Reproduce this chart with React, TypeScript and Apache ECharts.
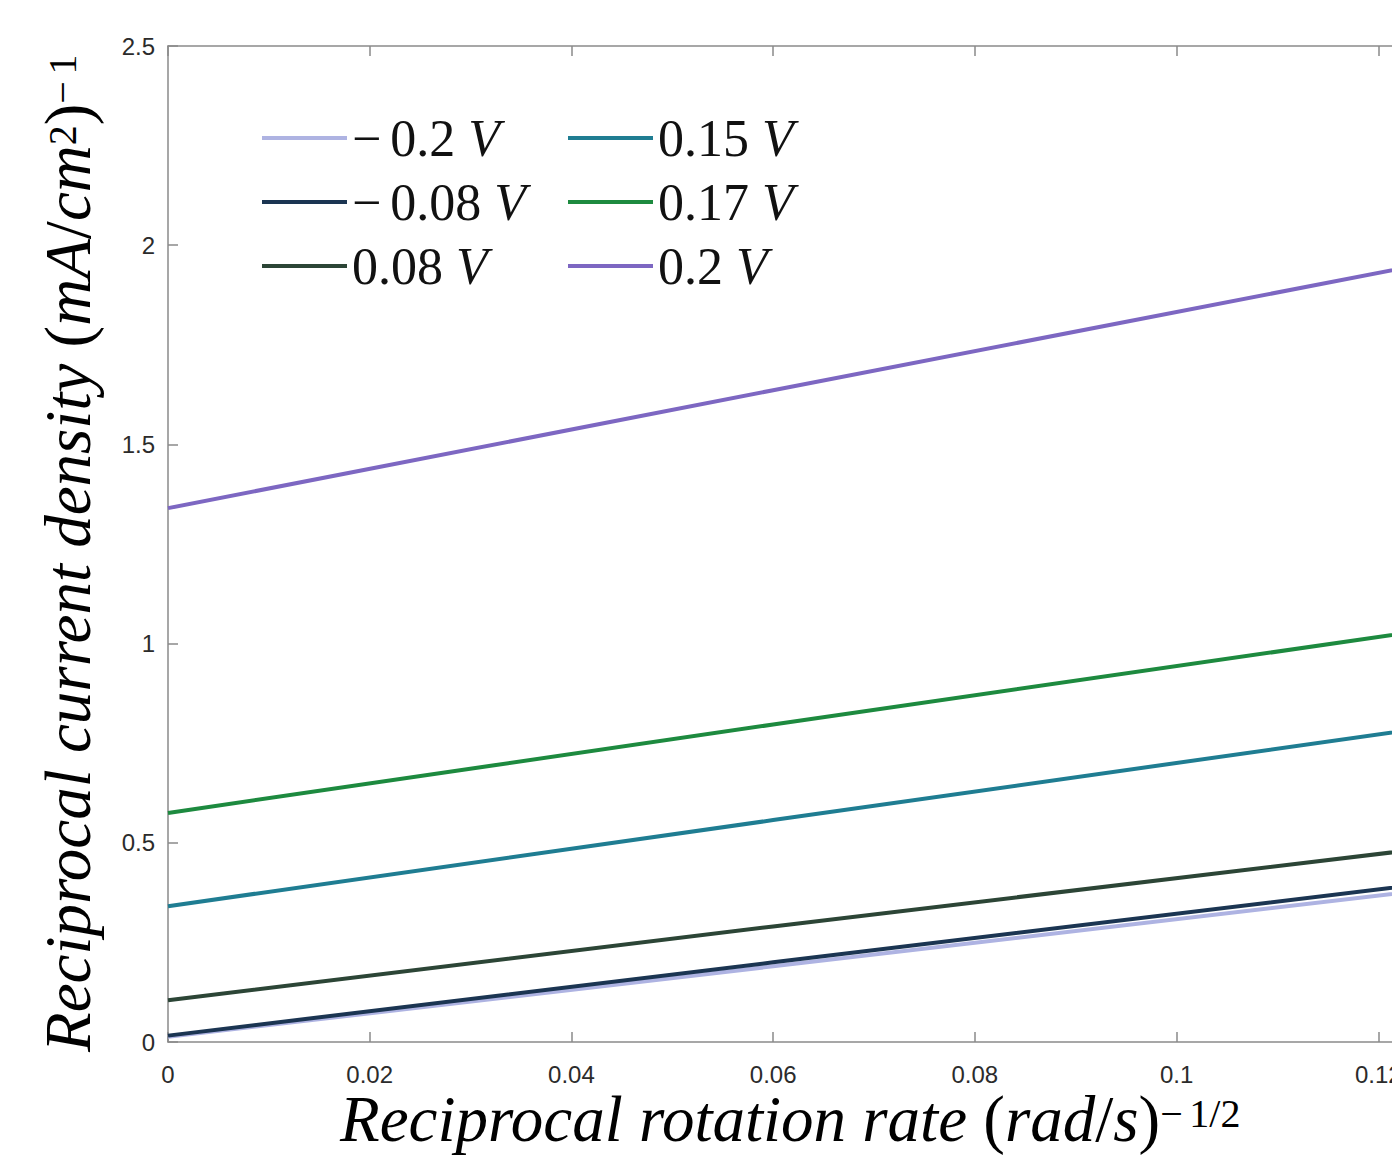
import React, { useEffect, useRef } from "react";
import * as echarts from "echarts";

// Reciprocal rotation rate (rad/s)^-1/2 sample points
const X_VALUES = [0, 0.06, 0.125];
// Reciprocal current density (mA/cm^2)^-1 for each potential
const SERIES_NAMES = ["\u22120.2", "\u22120.08", "0.08", "0.15", "0.17", "0.2"];
const V_NEG_020 = [0.013, 0.19, 0.382];
const V_NEG_008 = [0.016, 0.2, 0.398];
const V_POS_008 = [0.105, 0.29, 0.487];
const V_POS_015 = [0.341, 0.557, 0.79];
const V_POS_017 = [0.575, 0.797, 1.035];
const V_POS_020 = [1.34, 1.636, 1.955];
const SERIES_VALUES = [V_NEG_020, V_NEG_008, V_POS_008, V_POS_015, V_POS_017, V_POS_020];
const SERIES_COLORS = ["#aeb3e2", "#1b3552", "#2c4536", "#1f7d92", "#1d8a3f", "#7d67c2"];

const X_TICKS = [0, 0.02, 0.04, 0.06, 0.08, 0.1, 0.12, 0.14];
const Y_TICKS = [0, 0.5, 1, 1.5, 2, 2.5];

const AXIS_COLOR = "#8a8a8a";
const LABEL_COLOR = "#2b2b2b";
const SERIF = "'Liberation Serif', serif";
const SANS = "'Liberation Sans', Arial, sans-serif";

export default function App() {
  const ref = useRef<HTMLDivElement>(null);

  useEffect(() => {
    if (!ref.current) return;
    const chart = echarts.init(ref.current, undefined, { renderer: "svg" });

    const xMin = X_TICKS[0];
    const xMax = X_TICKS[X_TICKS.length - 1];
    const xInt = X_TICKS[1] - X_TICKS[0];
    const yMin = Y_TICKS[0];
    const yMax = Y_TICKS[Y_TICKS.length - 1];
    const yInt = Y_TICKS[1] - Y_TICKS[0];

    const series = SERIES_NAMES.map((name, i) => ({
      name,
      type: "line",
      xAxisIndex: 0,
      yAxisIndex: 0,
      showSymbol: false,
      symbol: "none",
      data: X_VALUES.map((x, j) => [x, SERIES_VALUES[i][j]]),
      lineStyle: { color: SERIES_COLORS[i], width: 4 },
      itemStyle: { color: SERIES_COLORS[i] },
      z: 2 + i,
    }));

    const legendText = (name: string) => {
      if (name.startsWith("\u2212")) {
        return `{m|\u2212}{g| }{n|${name.slice(1)}}{s| }{v|V}`;
      }
      return `{n|${name}}{s| }{v|V}`;
    };

    const legendCommon = {
      orient: "vertical",
      icon: "rect",
      itemWidth: 85,
      itemHeight: 4,
      itemGap: 12,
      padding: 0,
      top: 112,
      formatter: legendText,
      textStyle: {
        color: "#111",
        lineHeight: 52,
        rich: {
          m: { fontFamily: SERIF, fontSize: 52, lineHeight: 52, color: "#111" },
          g: { fontFamily: SERIF, fontSize: 36, lineHeight: 52 },
          n: { fontFamily: SERIF, fontSize: 52, lineHeight: 52, color: "#111" },
          s: { fontFamily: SERIF, fontSize: 52, lineHeight: 52 },
          v: { fontFamily: SERIF, fontStyle: "italic", fontSize: 52, lineHeight: 52, color: "#111" },
        },
      },
    };

    const axisLineStyle = { onZero: false, lineStyle: { color: AXIS_COLOR, width: 1.5 } };
    const tickStyle = { inside: true, length: 10, lineStyle: { color: AXIS_COLOR, width: 1.5 } };

    const titleRich = {
      m: { fontFamily: SERIF, fontStyle: "italic", fontSize: 65, lineHeight: 58, verticalAlign: "bottom", color: "#111" },
      r: { fontFamily: SERIF, fontSize: 65, lineHeight: 58, verticalAlign: "bottom", color: "#111" },
      p: { fontFamily: SERIF, fontSize: 40, verticalAlign: "top", color: "#111" },
      q: { fontFamily: SERIF, fontSize: 26, verticalAlign: "top" },
    };

    chart.setOption({
      animation: false,
      backgroundColor: "#ffffff",
      grid: { left: 168, top: 46, width: 1412, height: 996, containLabel: false },
      legend: [
        { ...legendCommon, left: 262, data: SERIES_NAMES.slice(0, 3) },
        { ...legendCommon, left: 568, data: SERIES_NAMES.slice(3, 6) },
      ],
      xAxis: [
        {
          type: "value",
          position: "bottom",
          min: xMin,
          max: xMax,
          interval: xInt,
          axisLine: axisLineStyle,
          axisTick: tickStyle,
          splitLine: { show: false },
          axisLabel: { color: LABEL_COLOR, fontFamily: SANS, fontSize: 24, margin: 20 },
        },
        {
          type: "value",
          position: "top",
          min: xMin,
          max: xMax,
          interval: xInt,
          axisLine: axisLineStyle,
          axisTick: tickStyle,
          splitLine: { show: false },
          axisLabel: { show: false },
        },
      ],
      yAxis: [
        {
          type: "value",
          position: "left",
          min: yMin,
          max: yMax,
          interval: yInt,
          axisLine: axisLineStyle,
          axisTick: tickStyle,
          splitLine: { show: false },
          axisLabel: { color: LABEL_COLOR, fontFamily: SANS, fontSize: 24, margin: 13 },
        },
        {
          type: "value",
          position: "right",
          min: yMin,
          max: yMax,
          interval: yInt,
          axisLine: axisLineStyle,
          axisTick: tickStyle,
          splitLine: { show: false },
          axisLabel: { show: false },
        },
      ],
      graphic: [
        {
          type: "text",
          x: 340,
          y: 1093,
          style: {
            text: "{m|Reciprocal rotation rate }{r|(}{m|rad}{r|/}{m|s}{r|)}{p|\u2212}{q| }{p|1/2}",
            align: "left",
            verticalAlign: "top",
            rich: titleRich,
          },
        },
        {
          type: "text",
          x: 42,
          y: 1052,
          rotation: Math.PI / 2,
          style: {
            text: "{m|Reciprocal current density }{r|(}{m|mA}{r|/}{m|cm}{p|2}{r|)}{p|\u2212}{q| }{p|1}",
            align: "left",
            verticalAlign: "top",
            rich: titleRich,
          },
        },
      ],
      series,
    });

    return () => chart.dispose();
  }, []);

  return (
    <div
      style={{
        position: "absolute",
        left: 0,
        top: 0,
        width: 1392,
        height: 1160,
        overflow: "hidden",
        background: "#fff",
      }}
    >
      <div ref={ref} style={{ width: 1700, height: 1160 }} />
    </div>
  );
}
